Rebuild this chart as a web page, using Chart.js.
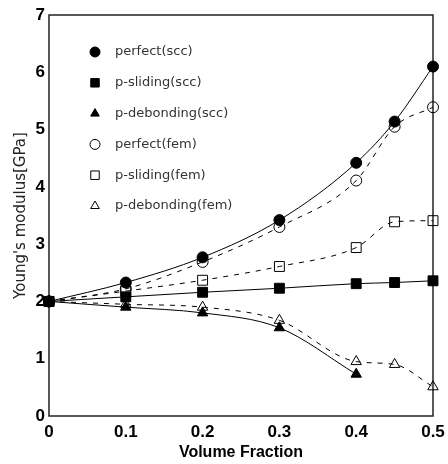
<!DOCTYPE html>
<html>
<head>
<meta charset="utf-8">
<script src="https://cdn.jsdelivr.net/npm/chart.js@4.4.0/dist/chart.umd.min.js"></script>
<style>
  html, body { margin:0; padding:0; background:#fff; }
  #wrap { width:448px; height:464px; }
</style>
</head>
<body>
<div id="wrap"><canvas id="c" width="448" height="464"></canvas></div>
<script>
// values
const volumeFraction = [0, 0.1, 0.2, 0.3, 0.4, 0.45, 0.5];
const debondSccFraction = [0, 0.1, 0.2, 0.3, 0.4];

const perfectScc = [2.0, 2.33, 2.77, 3.42, 4.42, 5.14, 6.10];
const slidingScc = [2.0, 2.08, 2.16, 2.23, 2.31, 2.33, 2.36];
const debondScc  = [2.0, 1.90, 1.80, 1.54, 0.73];
const perfectFem = [2.0, 2.22, 2.69, 3.30, 4.11, 5.05, 5.39];
const slidingFem = [2.0, 2.18, 2.37, 2.61, 2.94, 3.39, 3.41];
const debondFem  = [2.0, 1.95, 1.90, 1.67, 0.95, 0.90, 0.51];

const xTicks = [0, 0.1, 0.2, 0.3, 0.4, 0.5];
const yTicks = [0, 1, 2, 3, 4, 5, 6, 7];

function pts(xs, ys){ return ys.map((y, i) => ({ x: xs[i], y })); }

function series(label, xs, ys, style, filled, dashed){
  return {
    label,
    data: pts(xs, ys),
    borderColor: '#000',
    borderWidth: 1,
    borderDash: dashed ? [5, 6] : [],
    pointStyle: style,
    pointRadius: style === 'circle' ? 5.5 : (style === 'rect' ? 7 : 6),
    pointBorderWidth: 1,
    pointBorderColor: '#000',
    pointBackgroundColor: filled ? '#000' : 'rgba(0,0,0,0)',
    cubicInterpolationMode: 'monotone',
    fill: false,
    clip: false
  };
}

// black frame round the plot area
const framePlugin = {
  id: 'frame',
  beforeDatasetsDraw(chart){
    const a = chart.chartArea, ctx = chart.ctx;
    ctx.save();
    ctx.strokeStyle = '#222';
    ctx.lineWidth = 1.5;
    ctx.strokeRect(a.left, a.top, a.right - a.left, a.bottom - a.top);
    ctx.restore();
  }
};

// legend inside the plot, top left
const innerLegend = {
  id: 'innerLegend',
  afterDraw(chart){
    const ctx = chart.ctx;
    ctx.save();
    ctx.font = '13px "DejaVu Sans"';
    ctx.textBaseline = 'middle';
    chart.data.datasets.forEach((ds, i) => {
      const y = 52 + i * 30.8;
      const r = ds.pointStyle === 'rect' ? 6 : 5;
      ctx.strokeStyle = '#000';
      ctx.fillStyle = ds.pointBackgroundColor;
      ctx.lineWidth = 1;
      Chart.helpers.drawPoint(ctx, { pointStyle: ds.pointStyle, radius: r, borderWidth: 1 }, 95, y);
      ctx.fillStyle = '#333';
      ctx.fillText(ds.label, 115, y);
    });
    ctx.restore();
  }
};

new Chart(document.getElementById('c'), {
  type: 'line',
  data: {
    datasets: [
      series('perfect(scc)', volumeFraction, perfectScc, 'circle', true, false),
      series('p-sliding(scc)', volumeFraction, slidingScc, 'rect', true, false),
      series('p-debonding(scc)', debondSccFraction, debondScc, 'triangle', true, false),
      series('perfect(fem)', volumeFraction, perfectFem, 'circle', false, true),
      series('p-sliding(fem)', volumeFraction, slidingFem, 'rect', false, true),
      series('p-debonding(fem)', volumeFraction, debondFem, 'triangle', false, true)
    ]
  },
  options: {
    responsive: false,
    animation: false,
    layout: { padding: { top: 15, right: 15, left: 0, bottom: 0 } },
    plugins: { legend: { display: false }, tooltip: { enabled: false } },
    scales: {
      x: {
        type: 'linear', min: 0, max: 0.5,
        grid: { display: false, drawTicks: false },
        border: { display: false },
        afterBuildTicks(s){ s.ticks = xTicks.map(v => ({ value: v })); },
        afterFit(s){ s.height = 48; s.paddingRight = 0; s.paddingLeft = 0; },
        ticks: {
          color: '#000', padding: 6, maxRotation: 0,
          font: { family: 'Liberation Sans', weight: 'bold', size: 17 },
          callback: v => String(v)
        },
        title: {
          display: true, text: 'Volume Fraction', color: '#000',
          font: { family: 'Liberation Sans', weight: 'bold', size: 16 },
          padding: { top: 0, bottom: 2 }
        }
      },
      y: {
        min: 0, max: 7,
        grid: { display: false, drawTicks: false },
        border: { display: false },
        afterBuildTicks(s){ s.ticks = yTicks.map(v => ({ value: v })); },
        afterFit(s){ s.width = 49; },
        ticks: {
          color: '#000', padding: 4,
          font: { family: 'Liberation Sans', weight: 'bold', size: 17 }
        },
        title: {
          display: true, text: "Young's modulus[GPa]", color: '#222',
          font: { family: 'DejaVu Sans', size: 15 },
          padding: { top: 12, bottom: 0 }
        }
      }
    }
  },
  plugins: [framePlugin, innerLegend]
});
</script>
</body>
</html>
